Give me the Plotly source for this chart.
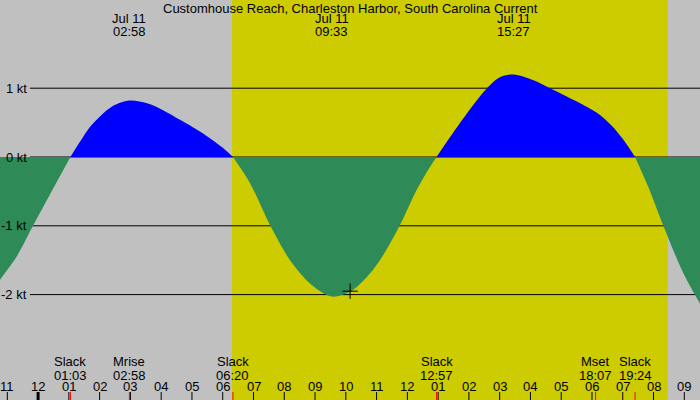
import plotly.graph_objects as go

# ---- data (hours since midnight Jul 11, knots) ----
ebb1_h = [-1.40, -1.24, -0.70, -0.166, 0.39, 1.05]
ebb1_v = [-1.92, -1.79, -1.45, -1.00, -0.54, 0.0]

flood1_h = [1.05, 1.36, 1.69, 2.01, 2.43, 2.967, 3.54, 4.06, 4.61, 5.26, 5.65, 5.98, 6.333]
flood1_v = [0.0, 0.22, 0.44, 0.59, 0.74, 0.82, 0.78, 0.68, 0.54, 0.37, 0.25, 0.14, 0.0]

ebb2_h = [6.333, 6.887, 7.537, 8.187, 8.837, 9.27, 9.594, 10.137, 10.569, 11.11, 11.76, 12.30, 12.74, 12.95]
ebb2_v = [0.0, -0.38, -0.99, -1.50, -1.84, -1.98, -2.03, -1.96, -1.80, -1.50, -0.99, -0.48, -0.14, 0.0]

flood2_h = [12.95, 13.39, 13.93, 14.47, 14.74, 15.01, 15.45, 16.08, 16.64, 17.18, 17.83, 18.26, 18.65, 19.02, 19.40]
flood2_v = [0.0, 0.29, 0.63, 0.94, 1.07, 1.16, 1.20, 1.12, 1.00, 0.88, 0.73, 0.61, 0.45, 0.25, 0.0]

ebb3_h = [19.40, 19.89, 20.32, 20.97, 21.51, 21.65]
ebb3_v = [0.0, -0.50, -1.00, -1.69, -2.13, -2.24]

marker_h = [10.14]
marker_v = [-1.95]

sunrise_h = 6.30
sunset_h = 20.46

grid_kt = [1, 0, -1, -2]
grid_labels = ["1 kt", "0 kt", "-1 kt", "-2 kt"]

hour_ticks = list(range(-1, 22))
hour_labels = ["11", "12", "01", "02", "03", "04", "05", "06", "07", "08", "09", "10",
               "11", "12", "01", "02", "03", "04", "05", "06", "07", "08", "09"]

event_h = [1.05, 2.967, 6.333, 12.95, 18.117, 19.40]
event_name = ["Slack", "Mrise", "Slack", "Slack", "Mset", "Slack"]
event_time = ["01:03", "02:58", "06:20", "12:57", "18:07", "19:24"]

peak_h = [2.967, 9.55, 15.45]
peak_date = ["Jul 11", "Jul 11", "Jul 11"]
peak_time = ["02:58", "09:33", "15:27"]

title = "Customhouse Reach, Charleston Harbor, South Carolina Current"

# ---- figure ----
W, H = 700, 400
x_range = [-1.238, 21.51]
y_range = [-3.532, 2.282]
FONT = "Liberation Sans, Arial, sans-serif"
FS = 13
GREEN = "#2e8b57"
BLUE = "#0000ff"

fig = go.Figure()

def seg(h, v, color):
    fig.add_trace(go.Scatter(x=h, y=v, mode="lines", fill="tozeroy",
                             fillcolor=color, line=dict(color=color, width=0, shape="spline", smoothing=0.9),
                             hoverinfo="skip", showlegend=False))

seg(ebb1_h, ebb1_v, GREEN)
seg(flood1_h, flood1_v, BLUE)
seg(ebb2_h, ebb2_v, GREEN)
seg(flood2_h, flood2_v, BLUE)
seg(ebb3_h, ebb3_v, GREEN)

fig.add_trace(go.Scatter(x=marker_h, y=marker_v, mode="markers",
                         marker=dict(symbol="cross-thin", size=11, line=dict(color="black", width=1)),
                         hoverinfo="skip", showlegend=False))

shapes = []
shapes.append(dict(type="rect", xref="x", yref="paper", x0=sunrise_h, x1=sunset_h, y0=0, y1=1,
                   fillcolor="#cccc00", line=dict(width=0), layer="below"))
for g in grid_kt:
    shapes.append(dict(type="line", xref="paper", yref="y", x0=30 / W, x1=1, y0=g, y1=g,
                       line=dict(color="black", width=1), layer="below"))
tick_len = 8 / H
for h in hour_ticks:
    shapes.append(dict(type="line", xref="x", yref="paper", x0=h, x1=h, y0=0, y1=tick_len,
                       line=dict(color="black", width=3 if h == 0 else 1)))
for h in event_h:
    shapes.append(dict(type="line", xref="x", yref="paper", x0=h, x1=h, y0=0, y1=tick_len,
                       line=dict(color="red", width=1)))

ann = []
def txt(x, y, s, xref="x", xanchor="center"):
    ann.append(dict(x=x, y=y, xref=xref, yref="paper", text=s, showarrow=False,
                    xanchor=xanchor, yanchor="middle", borderpad=0,
                    font=dict(family=FONT, size=FS, color="black")))

txt(0.5, 1 - 8 / H, title, xref="paper")
for h, d, t in zip(peak_h, peak_date, peak_time):
    txt(h, 1 - 19 / H, d)
    txt(h, 1 - 31 / H, t)
for h, n, t in zip(event_h, event_name, event_time):
    txt(h, 1 - 361 / H, n)
    txt(h, 1 - 375 / H, t)
for h, l in zip(hour_ticks, hour_labels):
    txt(h, 1 - 386 / H, l)
for g, l in zip(grid_kt, grid_labels):
    ann.append(dict(x=28 / W, y=g, xref="paper", yref="y", text=l, showarrow=False,
                    xanchor="right", yanchor="middle", borderpad=0,
                    font=dict(family=FONT, size=FS, color="black")))

fig.update_layout(
    width=W, height=H, margin=dict(l=0, r=0, t=0, b=0),
    paper_bgcolor="#c0c0c0", plot_bgcolor="#c0c0c0",
    xaxis=dict(range=x_range, visible=False, fixedrange=True),
    yaxis=dict(range=y_range, visible=False, fixedrange=True),
    shapes=shapes, annotations=ann, showlegend=False,
)

fig.write_html("out.html", config={"displayModeBar": False})
